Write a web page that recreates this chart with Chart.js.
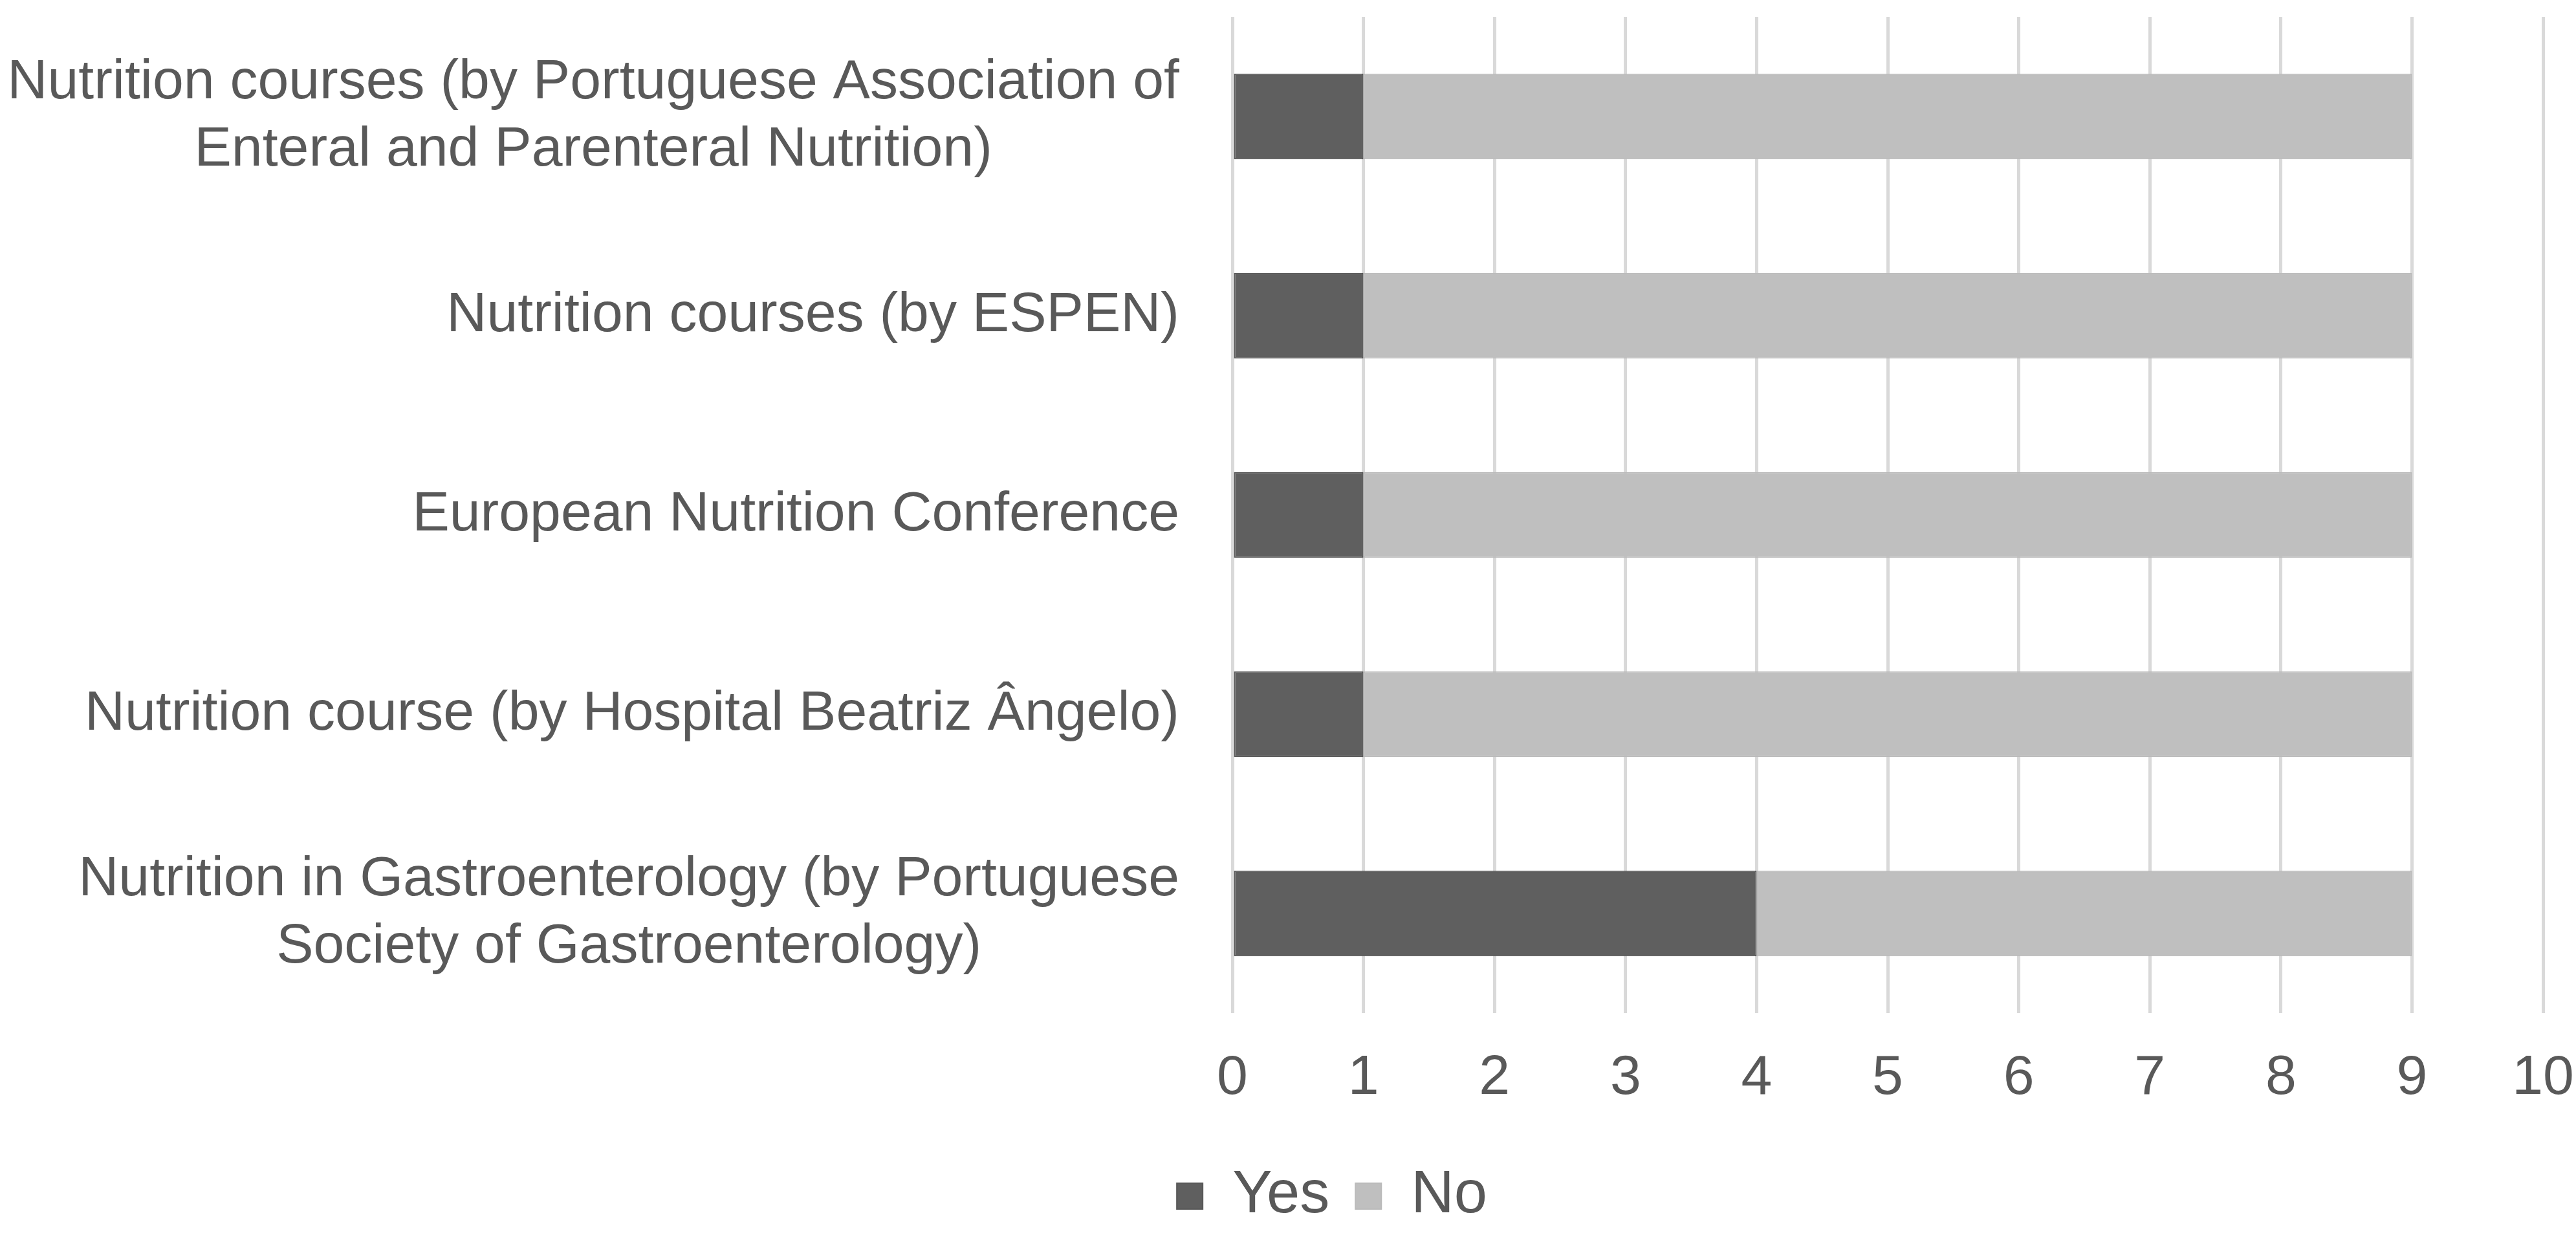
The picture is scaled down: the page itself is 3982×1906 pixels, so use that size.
<!DOCTYPE html>
<html>
<head>
<meta charset="utf-8">
<script src="https://cdn.jsdelivr.net/npm/chart.js@4/dist/chart.umd.min.js"></script>
<style>
  html, body { margin: 0; padding: 0; background: #ffffff; }
  #wrap { width: 3982px; height: 1906px; }
</style>
</head>
<body>
<div id="wrap"><canvas id="course_chart"></canvas></div>
<script>
// カテゴリ（上から順）
const categories = [
    ['Nutrition courses (by Portuguese Association of', 'Enteral and Parenteral Nutrition)'],
    ['Nutrition courses (by ESPEN)'],
    ['European Nutrition Conference'],
    ['Nutrition course (by Hospital Beatriz Ângelo)'],
    ['Nutrition in Gastroenterology (by Portuguese', 'Society of Gastroenterology)']
];
// 系列の値
const yesValues = [1, 1, 1, 1, 4];
const noValues = [8, 8, 8, 8, 5];
// 横軸の目盛り
const xTicks = [0, 1, 2, 3, 4, 5, 6, 7, 8, 9, 10];

const FONT_FAMILY = '"Liberation Sans", Arial, sans-serif';
const TEXT_COLOR = '#595959';
const FONT_SIZE = 86;
const LINE_HEIGHT = 104;
const PAD_LEFT = 187;

// 縦軸ラベルを描画（複数行は中央揃え、ブロックは右揃え）
const yLabelPlugin = {
    id: 'yLabelPlugin',
    afterDraw(chart) {
        const ctx = chart.ctx;
        const yScale = chart.scales.y;
        ctx.save();
        ctx.font = FONT_SIZE + 'px ' + FONT_FAMILY;
        ctx.fillStyle = TEXT_COLOR;
        ctx.textAlign = 'center';
        ctx.textBaseline = 'middle';
        categories.forEach(function(lines, i) {
            const y = yScale.getPixelForTick(i);
            const maxW = Math.max(...lines.map(l => ctx.measureText(l).width));
            const cx = chart.chartArea.left - 82 - maxW / 2;
            lines.forEach(function(line, j) {
                ctx.fillText(line, cx, y + (j - (lines.length - 1) / 2) * LINE_HEIGHT);
            });
        });
        ctx.restore();
    }
};

const ctx = document.getElementById('course_chart').getContext('2d');
new Chart(ctx, {
    type: 'bar',
    data: {
        labels: categories.map(c => c.join(' ')),
        datasets: [
            {
                label: 'Yes',
                data: yesValues,
                backgroundColor: '#5f5f5f',
                borderColor: '#575757',
                borderWidth: 2,
                borderSkipped: false
            },
            {
                label: 'No',
                data: noValues,
                backgroundColor: '#bfbfbf',
                borderColor: '#bababa',
                borderWidth: 2,
                borderSkipped: false
            }
        ]
    },
    options: {
        indexAxis: 'y',
        responsive: true,
        maintainAspectRatio: false,
        animation: false,
        layout: {
            padding: { top: 26, right: 51, bottom: 1, left: PAD_LEFT }
        },
        datasets: {
            bar: {
                categoryPercentage: 1.0,
                barPercentage: 0.43
            }
        },
        scales: {
            x: {
                stacked: true,
                min: 0,
                max: 10,
                afterBuildTicks: function(scale) {
                    scale.ticks = xTicks.map(v => ({ value: v }));
                },
                afterFit: function(scale) {
                    scale.height = 197;
                    scale.paddingLeft = 0;
                    scale.paddingRight = 0;
                },
                grid: {
                    color: '#d9d9d9',
                    lineWidth: 5,
                    drawTicks: false
                },
                border: { display: false },
                ticks: {
                    padding: 50,
                    color: TEXT_COLOR,
                    font: { family: FONT_FAMILY, size: FONT_SIZE }
                }
            },
            y: {
                stacked: true,
                afterFit: function(scale) {
                    scale.width = 1905 - PAD_LEFT;
                },
                grid: { display: false },
                border: { display: false },
                ticks: { display: false }
            }
        },
        plugins: {
            legend: {
                position: 'bottom',
                labels: {
                    boxWidth: 40,
                    boxHeight: 40,
                    padding: 40,
                    color: TEXT_COLOR,
                    font: { family: FONT_FAMILY, size: 92 }
                }
            },
            tooltip: { enabled: false }
        }
    },
    plugins: [yLabelPlugin]
});
</script>
</body>
</html>
